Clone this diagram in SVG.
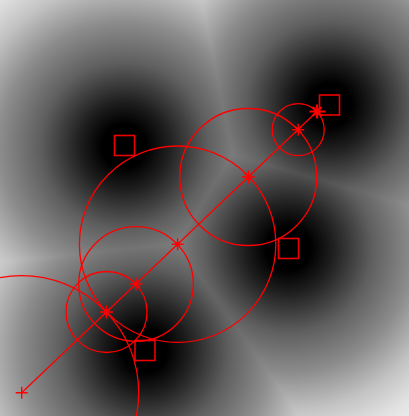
<svg xmlns="http://www.w3.org/2000/svg" xmlns:xlink="http://www.w3.org/1999/xlink" width="409" height="416" viewBox="0 0 409 416">
<style>
.bg{mix-blend-mode:darken}
.c{fill:none;stroke:#f00;stroke-width:1.3}
.sq{fill:none;stroke:#e00;stroke-width:1.6}
.m{fill:none;stroke:#f00;stroke-width:1.4}
.mb{fill:none;stroke:#f00;stroke-width:2.2}
.ln{fill:none;stroke:#f00;stroke-width:1.3}
</style>
<defs>
<radialGradient id="base" gradientUnits="userSpaceOnUse" r="240">
<stop offset="0" stop-color="#000"/>
<stop offset="0.092" stop-color="#000"/>
<stop offset="0.183" stop-color="#1e1e1e"/>
<stop offset="0.35" stop-color="#5f5f5f"/>
<stop offset="0.517" stop-color="#8c8c8c"/>
<stop offset="0.675" stop-color="#c3c3c3"/>
<stop offset="0.796" stop-color="#e1e1e1"/>
<stop offset="1" stop-color="#fff"/>
</radialGradient>
<radialGradient id="g1" href="#base" xlink:href="#base" gradientUnits="userSpaceOnUse" cx="124" cy="146" r="240"/>
<radialGradient id="g2" href="#base" xlink:href="#base" gradientUnits="userSpaceOnUse" cx="329.5" cy="105" r="240"/>
<radialGradient id="g3" href="#base" xlink:href="#base" gradientUnits="userSpaceOnUse" cx="288.5" cy="248.5" r="240"/>
<radialGradient id="g4" href="#base" xlink:href="#base" gradientUnits="userSpaceOnUse" cx="145" cy="350.5" r="240"/>
</defs>
<g id="background" style="isolation:isolate">
<rect width="409" height="416" fill="url(#g1)"/>
<rect class="bg" width="409" height="416" fill="url(#g2)"/>
<rect class="bg" width="409" height="416" fill="url(#g3)"/>
<rect class="bg" width="409" height="416" fill="url(#g4)"/>
</g>
<g id="obstacles">
<rect id="obs1" class="sq" x="114.5" y="135.5" width="20" height="20"/>
<rect id="obs2" class="sq" x="319.5" y="95" width="20" height="20"/>
<rect id="obs3" class="sq" x="278.5" y="238.5" width="20" height="20"/>
<rect id="obs4" class="sq" x="135" y="340.5" width="20" height="20"/>
</g>
<g id="connectors">
<line class="ln" x1="21.7" y1="392.7" x2="317" y2="111.5"/>
</g>
<g id="n0">
<circle class="c" cx="21.7" cy="392.7" r="117"/>
<path class="m" d="M15.7 392.7h12M21.7 386.7v12"/>
</g>
<g id="n1">
<circle class="c" cx="106.5" cy="312" r="40.5"/>
<path class="m" d="M100 312h13M106.5 305.5v13M102.5 308l8 8M110.5 308l-8 8"/>
</g>
<g id="n2">
<circle class="c" cx="136" cy="284" r="57.3"/>
<path class="m" d="M129.5 284h13M136 277.5v13M132 280l8 8M140 280l-8 8"/>
</g>
<g id="n3">
<circle class="c" cx="177.6" cy="244.2" r="98.2"/>
<path class="m" d="M171.6 244.2h12M177.6 238.2v12M175.6 242.2l4 4M179.6 242.2l-4 4"/>
</g>
<g id="n4">
<circle class="c" cx="248.3" cy="177" r="68.5"/>
<path class="m" d="M241.8 177h13M248.3 170.5v13M244.3 173l8 8M252.3 173l-8 8"/>
</g>
<g id="n5">
<circle class="c" cx="298.2" cy="129.7" r="26"/>
<path class="m" d="M292.2 129.7h12M298.2 123.7v12M294.7 126.2l7 7M301.7 126.2l-7 7"/>
</g>
<g id="n6">
<path class="mb" d="M309.5 111.5h16M317 104.5v14M312.5 107l9 9M321.5 107l-9 9"/>
</g>
</svg>
